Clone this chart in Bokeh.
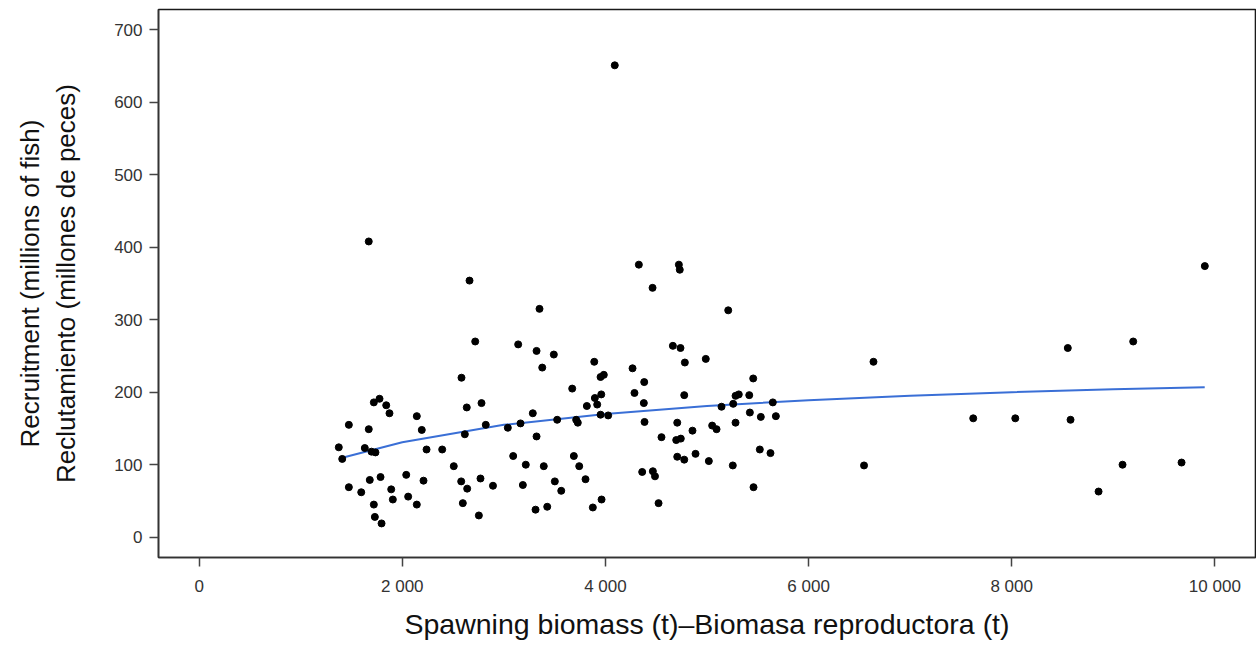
from bokeh.plotting import figure
from bokeh.models import FixedTicker, Range1d
from bokeh.embed import file_html
from bokeh.resources import INLINE

# Spawning biomass (t) and recruitment (millions of fish)
biomass = [
    1670, 2662, 2718, 2583, 1720, 1776, 1842, 1874, 2143, 1474, 1670, 2192, 2635, 2780, 2822,
    2616, 1375, 1409, 1631, 1697, 1736, 2239, 2393, 2507, 1474, 1596, 1680, 1786, 1891, 2039,
    2209, 1907, 2058, 2143, 1720, 1730, 1796, 2580, 2639, 2770, 2893, 2596, 2754,
    4329, 4464, 3351, 3141, 3322, 3492, 3378, 3890, 4267, 3952, 3984, 4382, 3673, 3959, 3896,
    4286, 4378, 3817, 3919, 3285, 3039, 3164, 3525, 3712, 3728, 3952, 4027, 4385, 3322, 4552,
    3092, 3216, 3393, 3689, 3742, 3804, 3502, 3565, 3187, 3312, 3427, 3876, 3962, 4362, 4467,
    4488, 4523,
    4723, 4732, 5209, 4664, 4739, 4782, 4988, 5455, 4776, 5281, 5313, 5416, 5143, 5258, 5648,
    5422, 5530, 5678, 4707, 4857, 5051, 5094, 5281, 4697, 4742, 4707, 4776, 4887, 5018, 5254,
    5520, 5625, 5458,
    4092, 6639, 6546, 7621, 8035, 8552, 8579, 9196, 8855, 9091, 9672, 9901,
]
recruitment = [
    408, 354, 270, 220, 186, 191, 182, 171, 167, 155, 149, 148, 179, 185, 155,
    142, 124, 108, 123, 118, 117, 121, 121, 98, 69, 62, 79, 83, 66, 86,
    78, 52, 56, 45, 45, 28, 19, 77, 67, 81, 71, 47, 30,
    376, 344, 315, 266, 257, 252, 234, 242, 233, 221, 224, 214, 205, 197, 192,
    199, 185, 181, 183, 171, 151, 157, 162, 162, 158, 169, 168, 159, 139, 138,
    112, 100, 98, 112, 98, 80, 77, 64, 72, 38, 42, 41, 52, 90, 91,
    84, 47,
    376, 369, 313, 264, 261, 241, 246, 219, 196, 195, 197, 196, 180, 184, 186,
    172, 166, 167, 158, 147, 154, 149, 158, 134, 136, 111, 107, 115, 105, 99,
    121, 116, 69,
    651, 242, 99, 164, 164, 261, 162, 270, 63, 100, 103, 374,
]

# fitted stock-recruitment curve
curve_biomass = [1390, 2000, 3000, 4000, 5000, 6000, 7000, 8000, 9000, 9900]
curve_recruitment = [109, 131, 155, 170, 181, 189, 195, 200, 204, 207]

x_ticks = [0, 2000, 4000, 6000, 8000, 10000]
x_tick_labels = ["0", "2 000", "4 000", "6 000", "8 000", "10 000"]
y_ticks = [0, 100, 200, 300, 400, 500, 600, 700]
y_tick_labels = ["0", "100", "200", "300", "400", "500", "600", "700"]

FONT = "Liberation Sans"

p = figure(
    width=1256, height=656,
    x_range=Range1d(-400, 10400), y_range=Range1d(-28, 728),
    output_backend="svg", toolbar_location=None,
    min_border_left=158, min_border_right=1, min_border_top=9, min_border_bottom=99,
)
p.grid.visible = False
p.background_fill_color = "white"
p.border_fill_color = "white"
p.outline_line_color = "#1a1a1a"
p.outline_line_width = 1.6

p.line(curve_biomass, curve_recruitment, line_color="#3a6fd6", line_width=2)
p.scatter(biomass, recruitment, size=7, fill_color="black", line_color="black")

for ax in (p.xaxis[0], p.yaxis[0]):
    ax.axis_line_color = "#333333"
    ax.axis_line_width = 1.5
    ax.major_tick_line_color = "#444444"
    ax.major_tick_line_width = 1.5
    ax.major_tick_out = 9
    ax.major_tick_in = 0
    ax.minor_tick_line_color = None
    ax.major_label_text_font = FONT
    ax.major_label_text_font_size = "17px"
    ax.major_label_text_color = "#333333"
    ax.axis_label_text_font = FONT
    ax.axis_label_text_font_style = "normal"
    ax.axis_label_text_color = "#111111"

p.xaxis.ticker = FixedTicker(ticks=x_ticks)
p.xaxis.major_label_overrides = dict(zip(x_ticks, x_tick_labels))
p.xaxis.major_label_standoff = 10
p.xaxis.axis_label = "Spawning biomass (t)\u2013Biomasa reproductora (t)"
p.xaxis.axis_label_text_font_size = "28.5px"
p.xaxis.axis_label_standoff = 9

p.yaxis.ticker = FixedTicker(ticks=y_ticks)
p.yaxis.major_label_overrides = dict(zip(y_ticks, y_tick_labels))
p.yaxis.major_label_orientation = "horizontal"
p.yaxis.major_label_standoff = 7
p.yaxis.axis_label = "Recruitment (millions of fish)\nReclutamiento (millones de peces)"
p.yaxis.axis_label_text_font_size = "26px"
p.yaxis.axis_label_standoff = 30

open("out.html", "w").write(file_html(p, INLINE))
